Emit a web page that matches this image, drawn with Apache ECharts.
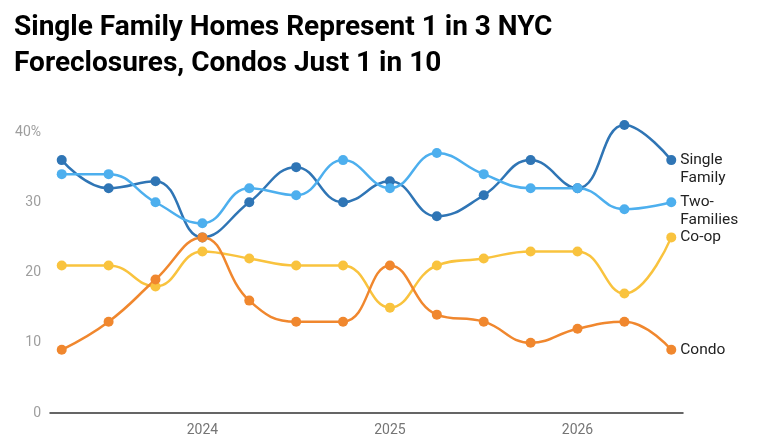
<!DOCTYPE html>
<html><head><meta charset="utf-8">
<script src="https://cdn.jsdelivr.net/npm/echarts@6/dist/echarts.min.js"></script>
<style>html,body{margin:0;padding:0;background:#fff}#c{width:780px;height:448px}</style>
</head><body><div id="c"></div>
<script>
const quarters = ['2023 Q2','2023 Q3','2023 Q4','2024 Q1','2024 Q2','2024 Q3','2024 Q4','2025 Q1','2025 Q2','2025 Q3','2025 Q4','2026 Q1','2026 Q2','2026 Q3'];
const yearTickIdx = [3, 7, 11];
const yearTickLabels = ['2024', '2025', '2026'];
const singleFamily = [36,32,33,25,30,35,30,33,28,31,36,32,41,36];
const twoFamilies = [34,34,30,27,32,31,36,32,37,34,32,32,29,30];
const coop = [21,21,18,23,22,21,21,15,21,22,23,23,17,25];
const condo = [9,13,19,25,16,13,13,21,14,13,10,12,13,9];

function mk(name, label, color, vals, offY){
  return {
    name, type:'line', smooth:0.45, symbol:'circle', symbolSize:10, clip:false,
    lineStyle:{width:2.5,color}, itemStyle:{color},
    data: vals.map((v,i)=>[i,v]),
    endLabel:{show:true, formatter:label, color:'#222', fontSize:15.5, lineHeight:18,
      fontFamily:'Roboto', distance:9, offset:[0,offY], align:'left'}
  };
}
const chart = echarts.init(document.getElementById('c'));
chart.setOption({
  animation:false,
  title:{text:'Single Family Homes Represent 1 in 3 NYC\nForeclosures, Condos Just 1 in 10',
    left:9, top:5, textStyle:{fontFamily:'Roboto', fontWeight:'bold', fontSize:28, lineHeight:36, color:'#000'}},
  grid:{left:50, right:97, top:132, bottom:35},
  xAxis:{type:'value', min:-0.25, max:13.25,
    axisLine:{show:true, onZero:false, lineStyle:{color:'#333', width:1.5}},
    axisTick:{show:false}, splitLine:{show:false},
    axisLabel:{color:'#757575', fontSize:14, fontFamily:'Roboto', margin:10,
      customValues:yearTickIdx,
      formatter:v=>yearTickLabels[yearTickIdx.indexOf(v)]||''}},
  yAxis:{type:'value', min:0, max:40, interval:10,
    axisLine:{show:false}, axisTick:{show:false}, splitLine:{show:false},
    axisLabel:{color:'#9e9e9e', fontSize:14, fontFamily:'Roboto', margin:9,
      formatter:v=>v===40?'40%':String(v)}},
  series:[
    mk('Single Family','Single\nFamily','#2f75b5',singleFamily,9),
    mk('Two-Families','Two-\nFamilies','#4dafee',twoFamilies,9),
    mk('Co-op','Co-op','#f9c33e',coop,0),
    mk('Condo','Condo','#f0872e',condo,0)
  ]
});
</script></body></html>
